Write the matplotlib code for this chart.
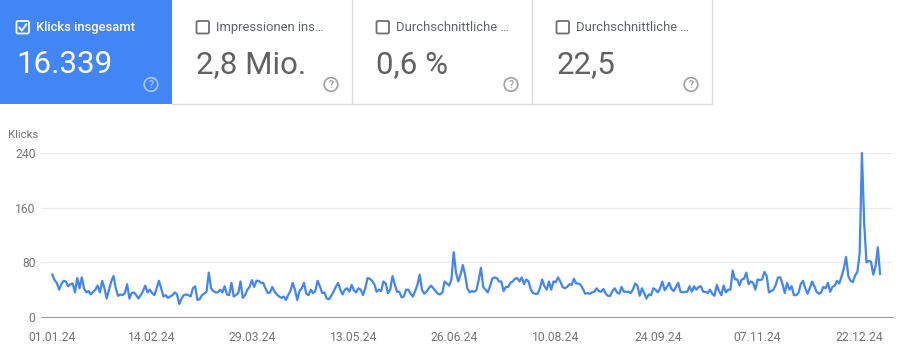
import matplotlib
matplotlib.use("Agg")
import matplotlib.pyplot as plt
from matplotlib.patches import Rectangle, Circle, FancyBboxPatch
import pandas as pd

plt.rcParams["font.family"] = ["Roboto", "DejaVu Sans"]

# summary cards
card_titles = ["Klicks insgesamt", "Impressionen ins…", "Durchschnittliche …", "Durchschnittliche …"]
card_values = ["16.339", "2,8 Mio.", "0,6 %", "22,5"]
card_selected = [True, False, False, False]

# chart labels
y_label = "Klicks"
y_ticks = [0, 80, 160, 240]
x_tick_labels = ["01.01.24", "14.02.24", "29.03.24", "13.05.24", "26.06.24",
                 "10.08.24", "24.09.24", "07.11.24", "22.12.24"]

# daily clicks 2024
clicks_jan = [62, 54, 50, 40, 48, 53, 52, 45, 48, 49, 36, 57, 42, 58, 42, 36, 38, 33, 37, 40,
              46, 36, 53, 42, 27, 40, 52, 60, 42, 31, 33]
clicks_feb = [32, 35, 48, 27, 35, 36, 32, 27, 32, 38, 46, 36, 40, 35, 32, 42, 53, 42, 30, 32,
              28, 30, 32, 36, 33, 19, 27, 32, 33]
clicks_mar = [32, 30, 42, 45, 25, 26, 32, 34, 37, 65, 42, 38, 36, 36, 40, 36, 45, 33, 32, 50,
              30, 32, 35, 52, 28, 32, 40, 44, 54, 44, 53]
clicks_apr = [53, 50, 50, 42, 35, 36, 44, 37, 33, 30, 28, 30, 25, 32, 38, 50, 40, 25, 38, 42,
              50, 34, 32, 40, 35, 38, 53, 45, 35, 36]
clicks_may = [27, 26, 31, 37, 44, 50, 40, 33, 40, 42, 37, 47, 39, 36, 42, 40, 32, 42, 57, 56,
              53, 48, 37, 40, 38, 52, 49, 35, 40, 60, 48]
clicks_jun = [37, 37, 29, 30, 40, 40, 34, 30, 38, 47, 62, 40, 34, 37, 42, 46, 42, 38, 34, 33,
              36, 52, 49, 46, 55, 95, 65, 52, 62, 76]
clicks_jul = [62, 42, 36, 38, 37, 39, 54, 72, 44, 40, 36, 45, 56, 58, 57, 52, 52, 38, 44, 44,
              50, 52, 56, 57, 52, 58, 48, 55, 52, 40, 35]
clicks_aug = [34, 34, 42, 55, 45, 40, 52, 40, 52, 51, 58, 52, 44, 42, 44, 48, 47, 56, 49, 49,
              47, 41, 34, 35, 34, 36, 37, 42, 38, 37, 41]
clicks_sep = [34, 31, 31, 38, 42, 36, 34, 44, 37, 37, 37, 35, 40, 49, 46, 31, 42, 35, 27, 33,
              32, 42, 40, 36, 42, 52, 39, 44, 50, 41]
clicks_oct = [38, 44, 50, 37, 36, 37, 37, 45, 37, 45, 40, 44, 45, 37, 37, 35, 40, 34, 31, 47,
              38, 32, 46, 36, 40, 40, 68, 55, 55, 46, 55]
clicks_nov = [56, 65, 48, 52, 50, 40, 55, 54, 55, 66, 60, 36, 38, 40, 47, 58, 58, 48, 35, 50,
              40, 45, 32, 32, 35, 48, 53, 42, 34, 42]
clicks_dec = [52, 45, 37, 34, 36, 44, 42, 50, 37, 44, 46, 53, 49, 59, 71, 88, 60, 53, 51, 61,
              66, 93, 240, 137, 80, 82, 81, 62, 74, 102, 63]

clicks = (clicks_jan + clicks_feb + clicks_mar + clicks_apr + clicks_may + clicks_jun
          + clicks_jul + clicks_aug + clicks_sep + clicks_oct + clicks_nov + clicks_dec)
dates = pd.date_range("2024-01-01", periods=len(clicks), freq="D")

BLUE = "#4285f4"
GREY_TXT = "#5f6368"
GREY_NUM = "#616161"
BORDER = "#dadce0"

W, H = 900, 358
fig = plt.figure(figsize=(W / 100, H / 100), dpi=100)

# overlay in pixel coordinates for the cards
ov = fig.add_axes([0, 0, 1, 1])
ov.set_xlim(0, W)
ov.set_ylim(H, 0)
ov.axis("off")

card_w = 180
ov.add_patch(Rectangle((0, 0), 172, 103.5, fc=BLUE, ec="none"))
for i, (title, value, sel) in enumerate(zip(card_titles, card_values, card_selected)):
    left = -8 + i * card_w
    right = left + card_w
    fg = "white" if sel else GREY_TXT
    numc = "white" if sel else GREY_NUM
    # checkbox
    bx = left + 24.5
    box = FancyBboxPatch((bx, 21), 12.5, 12.5, boxstyle="round,pad=0,rounding_size=1.5",
                         fc="none", ec="white" if sel else "#6f6f6f", lw=1.3)
    ov.add_patch(box)
    if sel:
        ov.plot([bx + 2.8, bx + 5.3, bx + 10], [bx * 0 + 27.5, 30.6, 24], color="white",
                lw=1.4, solid_capstyle="round")
    ov.text(bx + 19.5, 27.5, title, color=fg, fontsize=9.4,
            fontweight="medium" if sel else "normal", va="center", ha="left")
    ov.text(left + 24.5, 72.8, value, color=numc, fontsize=22.5, va="baseline", ha="left")
    # help icon
    qc = "#a9c8fb" if sel else "#a0a0a0"
    ov.add_patch(Circle((right - 21, 84.5), 6.8, fc="none", ec=qc, lw=1.2))
    ov.text(right - 21, 85, "?", color=qc, fontsize=7.5, ha="center", va="center",
            fontweight="medium")
    if i > 0:
        ov.plot([right - 0.5, right - 0.5], [0, 104], color=BORDER, lw=1)
ov.plot([172, 712], [103.5, 103.5], color=BORDER, lw=1)

# chart
ax = fig.add_axes([41 / W, (H - 317) / H, 852 / W, 164 / H])
ax.plot(dates, clicks, color=BLUE, lw=1.6, clip_on=False, solid_joinstyle="round")
ax.set_ylim(0, 240)
ax.set_xlim(dates[0] - pd.Timedelta(days=4.98), dates[0] + pd.Timedelta(days=370.7))
ax.set_yticks(y_ticks)
tick_dates = pd.to_datetime(x_tick_labels, format="%d.%m.%y")
ax.set_xticks(tick_dates)
ax.set_xticklabels(x_tick_labels)
ax.grid(axis="y", color="#ebebeb", lw=1)
ax.set_axisbelow(True)
for s in ["top", "right", "left"]:
    ax.spines[s].set_visible(False)
ax.spines["bottom"].set_color("#9e9e9e")
ax.tick_params(axis="both", length=0, colors="#757575", labelsize=8.7)
ax.tick_params(axis="y", pad=4)
ax.tick_params(axis="x", pad=10)
ax.patch.set_alpha(0)

fig.text(8 / W, 1 - 135 / H, y_label, color="#757575", fontsize=8.2, va="center", ha="left")

fig.savefig("out.png", dpi=100)
print(len(clicks), sum(clicks))
